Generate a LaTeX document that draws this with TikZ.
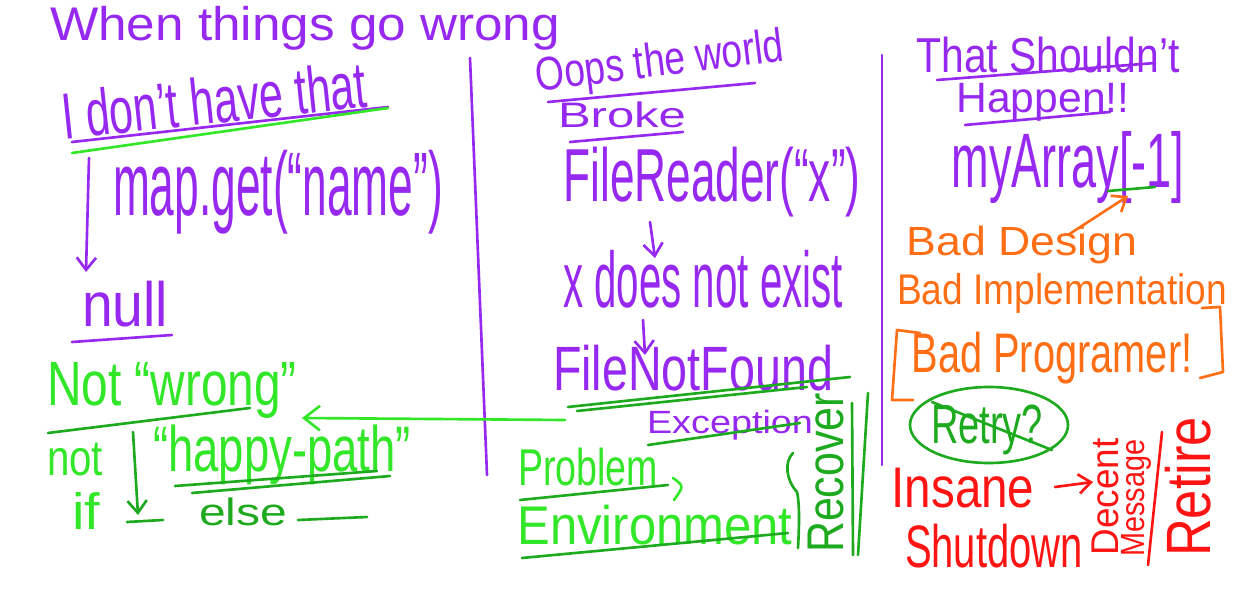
\documentclass[tikz,border=0pt]{standalone}
\usepackage{fontspec}
\setmainfont{Liberation Sans}
\usetikzlibrary{arrows.meta}
\definecolor{pur}{RGB}{150,40,240}
\definecolor{lgr}{RGB}{50,230,40}
\definecolor{dgr}{RGB}{30,170,30}
\definecolor{org}{RGB}{255,110,20}
\definecolor{rd}{RGB}{255,20,20}
\newcommand\fb[3]{\resizebox*{\dimexpr 0.569pt*#1\relax}{\dimexpr 0.569pt*#2\relax}{#3}}
\begin{document}
\begin{tikzpicture}[x=0.02cm,y=-0.02cm,
  tx/.style={inner sep=0pt,outer sep=0pt},
  ln/.style={line width=1.5pt,line cap=round,line join=round},
  arr/.style={ln,-{Straight Barb[length=7pt,width=11pt]}}]
\useasboundingbox (0,0) rectangle (1240,590);
\fill[white] (0,0) rectangle (1240,590);

% ---------- left column ----------
\node[tx,pur] (title) at (305,28) {\fb{510}{44}{When things go wrong}};
\node[tx,pur,rotate=6] (idont) at (214,100) {\fb{306}{48}{I don't have that}};
\draw[ln,pur] (72,142) -- (388,107);
\draw[ln,lgr] (72,153) -- (388,108);
\node[tx,pur] (mapget) at (278,192) {\fb{330}{84}{map.get(“name”)}};
\node[tx,pur] (null) at (125,304) {\fb{86}{46}{null}};
\draw[ln,pur] (72,342) -- (172,335);
\coordinate (a1s) at (89,158);
\coordinate (a1e) at (86,272);
\draw[arr,pur] (a1s) -- (a1e);
\draw[ln,pur] (470,58) -- (487,475);

\node[tx,lgr] (notwrong) at (172,390) {\fb{250}{56}{Not “wrong”}};
\draw[ln,dgr] (48,433) -- (250,408);
\node[tx,lgr] (not) at (75,459) {\fb{56}{33}{not}};
\node[tx,lgr] (if) at (86,511) {\fb{28}{37}{if}};
\coordinate (a2s) at (133,432);
\coordinate (a2e) at (138,515);
\draw[arr,dgr] (a2s) -- (a2e);
\draw[ln,dgr] (127,522) -- (163,520);
\node[tx,lgr] (happy) at (282,455) {\fb{258}{60}{“happy-path”}};
\draw[ln,dgr] (175,486) -- (377,471);
\draw[ln,dgr] (192,493) -- (390,476);
\node[tx,dgr] (else) at (243,512) {\fb{88}{28}{else}};
\draw[ln,dgr] (298,520) -- (367,517);

% ---------- middle column ----------
\node[tx,pur,rotate=7] (oops) at (660,64) {\fb{250}{44}{Oops the world}};
\draw[ln,pur] (548,102) -- (755,83);
\node[tx,pur] (broke) at (622,115) {\fb{128}{26}{Broke}};
\draw[ln,pur] (570,142) -- (683,132);
\node[tx,pur] (filereader) at (712,182) {\fb{297}{70}{FileReader(“x”)}};
\coordinate (p1s) at (650,222);
\coordinate (p1e) at (655,258);
\draw[arr,pur] (p1s) -- (p1e);
\node[tx,pur] (doesnot) at (703,279) {\fb{280}{58}{x does not exist}};
\coordinate (p2s) at (643,320);
\coordinate (p2e) at (645,355);
\draw[arr,pur] (p2s) -- (p2e);
\node[tx,pur] (fnf) at (693,368) {\fb{280}{46}{FileNotFound}};
\draw[ln,dgr] (568,407) -- (850,377);
\draw[ln,dgr] (577,411) -- (807,387);
\node[tx,pur] (exc) at (730,425) {\fb{166}{30}{Exception}};
\draw[ln,dgr] (648,445) -- (800,423);
\coordinate (ga) at (565,420);
\coordinate (gb) at (302,418);
\draw[ln,lgr,-{Straight Barb[length=9pt,width=14pt]}] (ga) -- (gb);

\node[tx,lgr] (problem) at (588,467) {\fb{140}{38}{Problem}};
\draw[ln,dgr] (520,500) -- (668,485);
\draw[ln,lgr] (673,478) .. controls (684,486) .. (674,500);
\node[tx,lgr] (env) at (655,525) {\fb{275}{40}{Environment}};
\draw[ln,dgr] (522,558) -- (788,533);
\draw[ln,dgr] (793,453) .. controls (784,462) and (786,480) .. (797,492)
  .. controls (800,505) and (799,530) .. (798,548);
\node[tx,dgr,rotate=90] (recover) at (826,473) {\fb{160}{36}{Recover}};
\draw[ln,dgr] (852,403) -- (853,555);
\draw[ln,dgr] (868,393) -- (858,555);
\draw[ln,pur] (882,55) -- (882,465);

% ---------- right column ----------
\node[tx,pur] (should) at (1048,55) {\fb{263}{36}{That Shouldn't}};
\draw[ln,pur] (937,80) -- (1155,63);
\node[tx,pur] (happen) at (1043,102) {\fb{173}{38}{Happen!!}};
\draw[ln,pur] (965,125) -- (1110,112);
\node[tx,pur] (myarray) at (1068,168) {\fb{233}{72}{myArray[-1]}};
\draw[ln,dgr] (1108,191) -- (1155,187);
\node[tx,org] (design) at (1022,245) {\fb{231}{38}{Bad Design}};
\coordinate (oa) at (1068,235);
\coordinate (ob) at (1128,196);
\draw[arr,org] (oa) -- (ob);
\node[tx,org] (impl) at (1062,293) {\fb{330}{40}{Bad Implementation}};
\node[tx,org] (prog) at (1052,358) {\fb{281}{52}{Bad Programer!}};
\draw[ln,org] (920,333) -- (897,330) -- (892,400) -- (913,400);
\draw[ln,org] (1202,308) -- (1220,307) -- (1223,372) -- (1200,378);
\node[tx,dgr] (retry) at (987,430) {\fb{112}{50}{Retry?}};
\draw[ln,dgr] (989,425) ellipse [x radius=79, y radius=38];
\draw[ln,dgr] (932,402) -- (1052,450);
\node[tx,rd] (insane) at (963,488) {\fb{143}{40}{Insane}};
\node[tx,rd] (shutdown) at (994,546) {\fb{178}{44}{Shutdown}};
\node[tx,rd,rotate=90] (decent) at (1105,497) {\fb{117}{27}{Decent}};
\node[tx,rd,rotate=90] (message) at (1136,498) {\fb{117}{30}{Message}};
\coordinate (ra) at (1055,487);
\coordinate (rb) at (1093,482);
\draw[arr,rd] (ra) -- (rb);
\draw[ln,rd] (1162,432) -- (1148,565);
\node[tx,rd,rotate=90] (retire) at (1188,487) {\fb{140}{46}{Retire}};
\end{tikzpicture}
\end{document}
